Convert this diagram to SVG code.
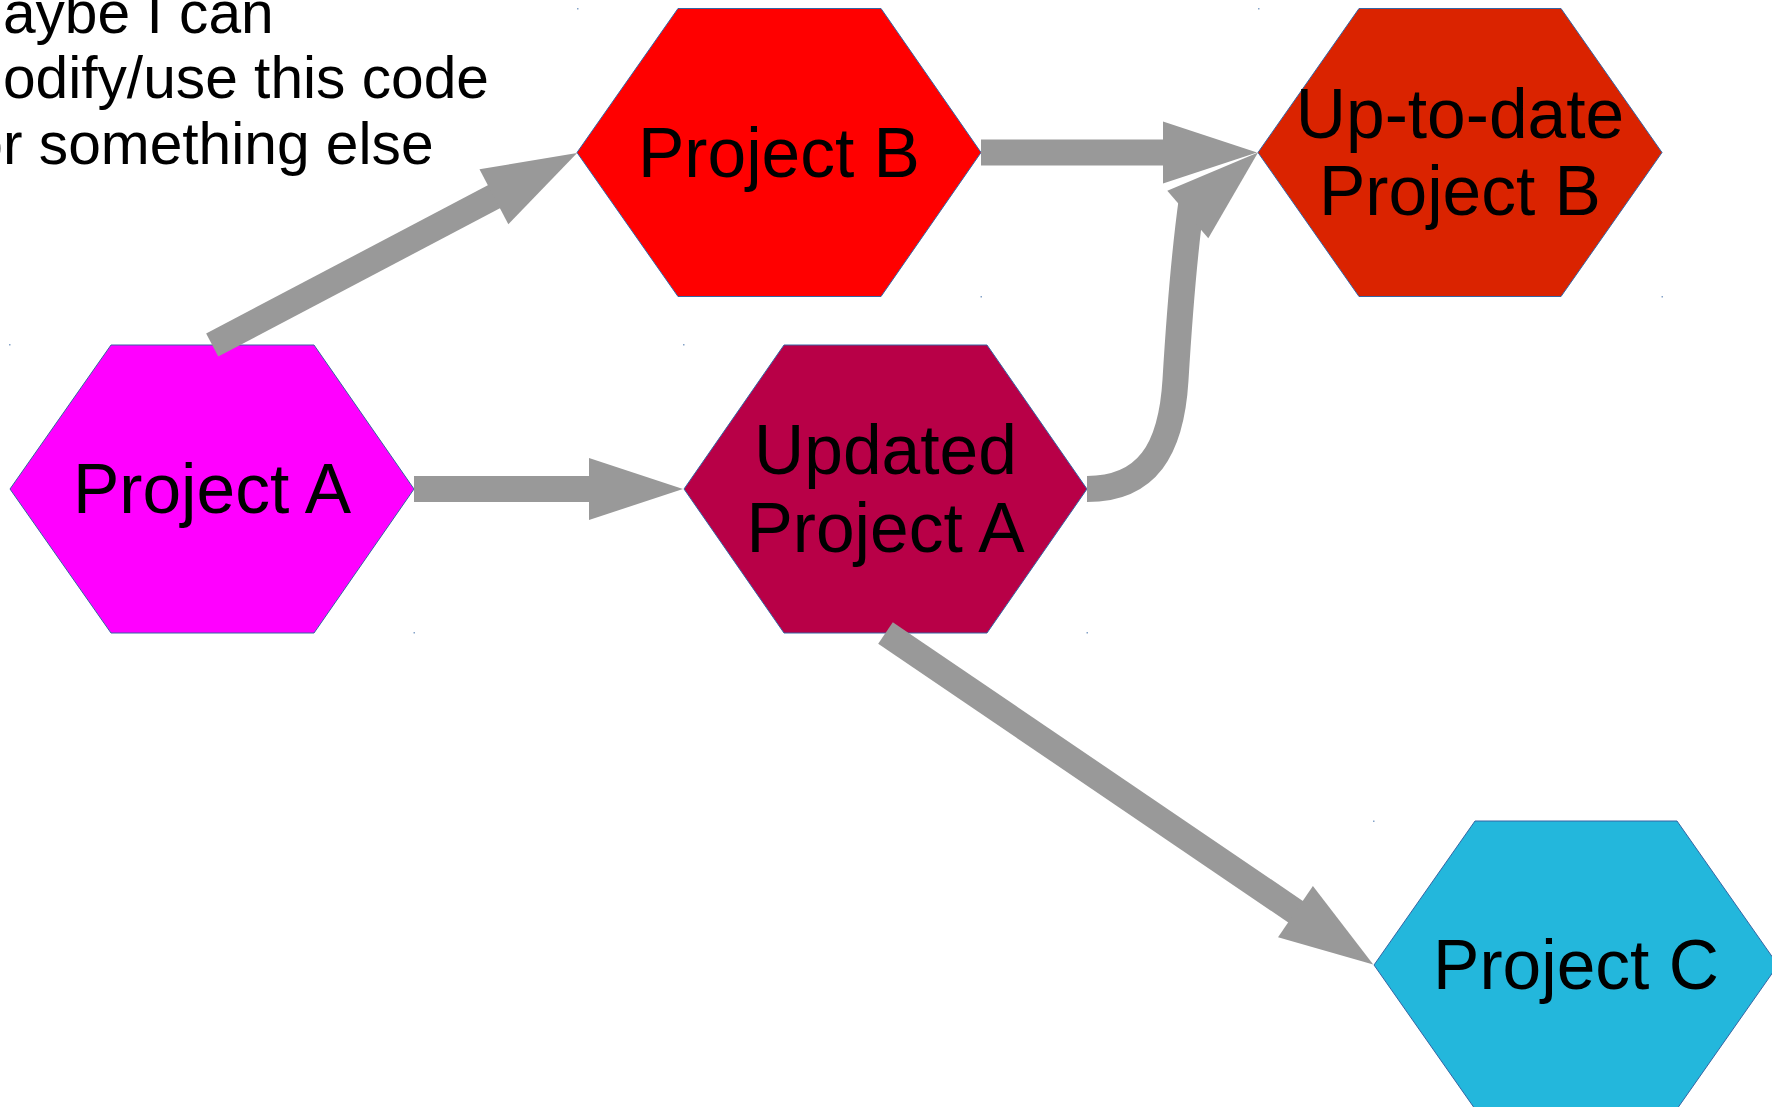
<svg xmlns="http://www.w3.org/2000/svg" width="1772" height="1107" viewBox="0 0 1772 1107">
  <style>
    .hex { stroke: #3465a4; stroke-width: 1; }
    .lbl { font-family: "Liberation Sans", Arial, sans-serif; font-size: 69.5px; fill: #000; text-anchor: middle; }
    .note { font-family: "Liberation Sans", Arial, sans-serif; font-size: 58.7px; fill: #000; }
    .edge { fill: none; stroke: #999999; stroke-width: 26; stroke-linecap: butt; }
    .head { fill: #999999; }
    .dot { fill: #3465a4; opacity: 0.6; }
  </style>
  <defs>
    <marker id="arrow" markerUnits="userSpaceOnUse" markerWidth="94" markerHeight="62"
            viewBox="0 0 94 62" refX="1" refY="31" orient="auto" overflow="visible">
      <path d="M0,0 L94,31 L0,62 Z" fill="#999999"/>
    </marker>
  </defs>

  <rect width="1772" height="1107" fill="#ffffff"/>

  <!-- free-standing note in the upper left corner -->
  <g id="note">
    <text class="note" x="-46" y="32.5">Maybe I can</text>
    <text class="note" x="-46" y="98">modify/use this code</text>
    <text class="note" x="-46" y="163.5">for something else</text>
  </g>

  <!-- nodes -->
  <g id="project-a">
    <polygon class="hex" fill="#ff00ff" points="10,489 111,345 314,345 414,489 314,633 111,633"/>
    <text class="lbl" x="212" y="513">Project A</text>
    <rect class="dot" x="9" y="344" width="1.5" height="1.5"/>
    <rect class="dot" x="413.5" y="632" width="1.5" height="1.5"/>
  </g>

  <g id="project-b">
    <polygon class="hex" fill="#ff0000" points="577,152.5 678,8.5 881,8.5 981,152.5 881,296.5 678,296.5"/>
    <text class="lbl" x="779" y="176.7">Project B</text>
    <rect class="dot" x="577" y="8" width="1.5" height="1.5"/>
    <rect class="dot" x="980.5" y="296" width="1.5" height="1.5"/>
  </g>

  <g id="up-to-date-project-b">
    <polygon class="hex" fill="#da2300" points="1258,152.5 1359,8.5 1561,8.5 1662,152.5 1561,296.5 1359,296.5"/>
    <text class="lbl" x="1460" y="137.8">Up-to-date</text>
    <text class="lbl" x="1460" y="215.2">Project B</text>
    <rect class="dot" x="1258" y="8" width="1.5" height="1.5"/>
    <rect class="dot" x="1661.5" y="296" width="1.5" height="1.5"/>
  </g>

  <g id="updated-project-a">
    <polygon class="hex" fill="#b80047" points="684,489 784,345 987,345 1087,489 987,633 784,633"/>
    <text class="lbl" x="885.5" y="474.3">Updated</text>
    <text class="lbl" x="885.5" y="551.7">Project A</text>
    <rect class="dot" x="683" y="344" width="1.5" height="1.5"/>
    <rect class="dot" x="1086.5" y="632" width="1.5" height="1.5"/>
  </g>

  <g id="project-c">
    <polygon class="hex" fill="#23b7dc" points="1374,965 1475,821 1677,821 1778,965 1677,1109 1475,1109"/>
    <text class="lbl" x="1576" y="988.5">Project C</text>
    <rect class="dot" x="1373" y="820.5" width="1.5" height="1.5"/>
  </g>

  <!-- connectors -->
  <g id="connectors">
    <!-- Project A -> Project B -->
    <path class="edge" d="M212.2,345 L494.8,196.3" marker-end="url(#arrow)"/>
    <!-- Project B -> Up-to-date Project B -->
    <path class="edge" d="M981,152.5 L1164,152.5" marker-end="url(#arrow)"/>
    <!-- Project A -> Updated Project A -->
    <path class="edge" d="M414,489 L590,489" marker-end="url(#arrow)"/>
    <!-- Updated Project A -> Up-to-date Project B (curved) -->
    <path class="edge" d="M1087,489 C1147,489 1171.3,450 1175.5,380 C1179.1,320 1183.6,258 1192,198"/>
    <polygon class="head" points="1167.3,190.7 1258,152.5 1208.3,238.3"/>
    <!-- Updated Project A -> Project C -->
    <path class="edge" d="M885.5,633 L1296.3,912.2" marker-end="url(#arrow)"/>
  </g>
</svg>
